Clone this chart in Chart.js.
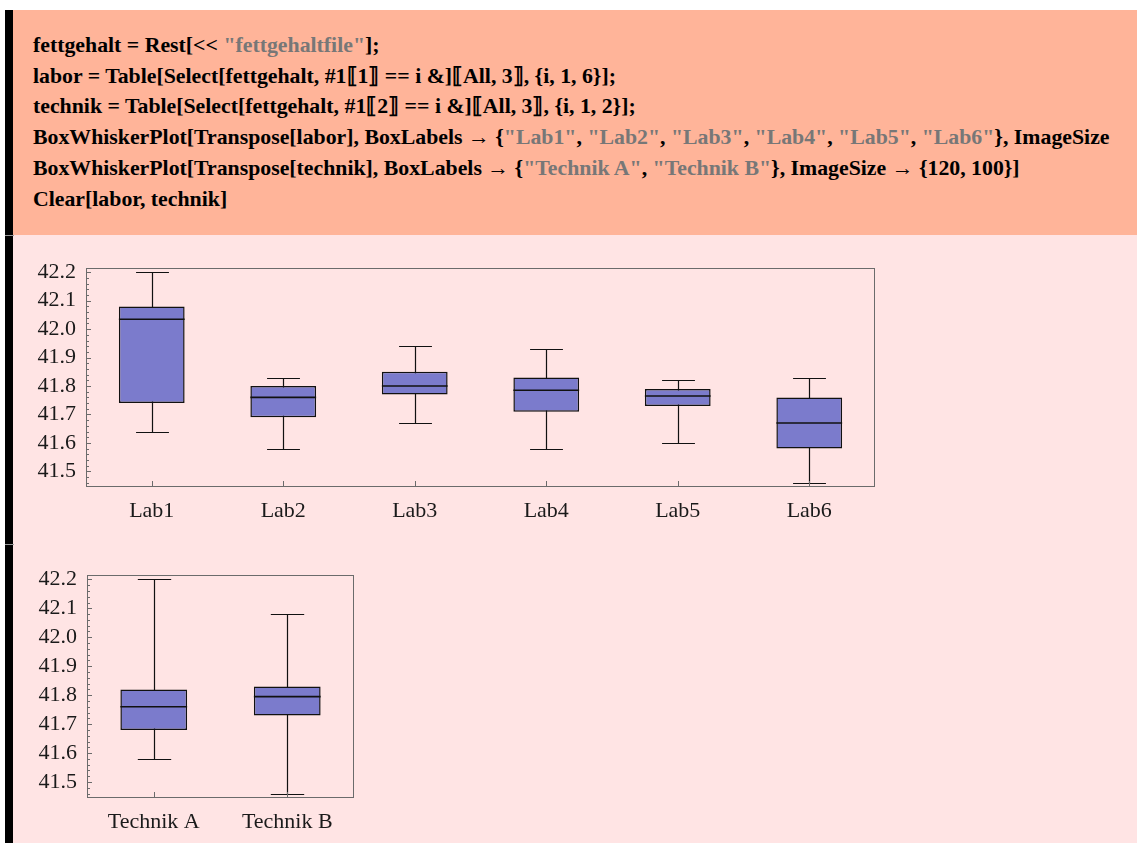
<!DOCTYPE html>
<html>
<head>
<meta charset="utf-8">
<script src="https://cdn.jsdelivr.net/npm/chart.js@4.4.1/dist/chart.umd.min.js"></script>
<style>
  html, body { margin: 0; padding: 0; background: #fff; width: 1137px; height: 843px; overflow: hidden; }
  #code { position: absolute; left: 5px; top: 10px; width: 1132px; height: 225px; background: #ffb499;
          border-left: 8px solid #000; box-sizing: border-box; overflow: hidden; }
  #code pre { position: absolute; left: 20px; top: 20px; margin: 0; white-space: pre;
              font: bold 21.8px "Liberation Serif", "Times New Roman", serif; line-height: 30.7px;
              color: #000; }
  #code .s { color: #777; }
  #out { position: absolute; left: 5px; top: 235px; width: 1132px; height: 608px; background: #ffe4e4;
         border-left: 8px solid #000; box-sizing: border-box; }
  .sep { position: absolute; left: 5px; width: 9px; height: 1px; background: #9a9a9a; }
  canvas { position: absolute; }
</style>
</head>
<body>
<div id="code"><pre>fettgehalt = Rest[&lt;&lt; <span class="s">"fettgehaltfile"</span>];
labor = Table[Select[fettgehalt, #1⟦1⟧ == i &amp;]⟦All, 3⟧, {i, 1, 6}];
technik = Table[Select[fettgehalt, #1⟦2⟧ == i &amp;]⟦All, 3⟧, {i, 1, 2}];
BoxWhiskerPlot[Transpose[labor], BoxLabels → {<span class="s">"Lab1"</span>, <span class="s">"Lab2"</span>, <span class="s">"Lab3"</span>, <span class="s">"Lab4"</span>, <span class="s">"Lab5"</span>, <span class="s">"Lab6"</span>}, ImageSize
BoxWhiskerPlot[Transpose[technik], BoxLabels → {<span class="s">"Technik A"</span>, <span class="s">"Technik B"</span>}, ImageSize → {120, 100}]
Clear[labor, technik]</pre></div>
<div id="out"></div>
<div class="sep" style="top:235px"></div>
<div class="sep" style="top:544px"></div>
<canvas id="laborChart" width="870" height="272" style="left:20px; top:258px"></canvas>
<canvas id="technikChart" width="350" height="278" style="left:20px; top:565px"></canvas>

<script>
// Fat content per laboratory: whisker ends, quartiles and median
const labCategories = ['Lab1', 'Lab2', 'Lab3', 'Lab4', 'Lab5', 'Lab6'];
const labMin    = [41.64, 41.58, 41.67, 41.58, 41.60, 41.46];
const labQ1     = [41.74, 41.69, 41.77, 41.71, 41.73, 41.58];
const labMedian = [42.035, 41.76, 41.80, 41.785, 41.765, 41.67];
const labQ3     = [42.08, 41.80, 41.85, 41.83, 41.79, 41.76];
const labMax    = [42.20, 41.83, 41.94, 41.93, 41.82, 41.83];

// Fat content per technique
const technikCategories = ['Technik A', 'Technik B'];
const technikMin    = [41.58, 41.46];
const technikQ1     = [41.68, 41.73];
const technikMedian = [41.76, 41.795];
const technikQ3     = [41.82, 41.83];
const technikMax    = [42.20, 42.08];

// Value axis
const yTickLabels = ['41.5', '41.6', '41.7', '41.8', '41.9', '42.0', '42.1', '42.2'];
const yMin = 41.445;
const yMax = 42.215;
const yMinorStep = 0.02;

const FRAME = '#6b6b6b';
const INK = '#111';

function isMultiple(v, step) {
  const q = v / step;
  return Math.abs(q - Math.round(q)) < 1e-6;
}

// Whiskers, caps, medians and the inward-ticked frame
const boxWhisker = {
  id: 'boxWhisker',
  beforeDatasetsDraw(chart, args, opts) {
    const { ctx } = chart;
    const y = chart.scales.y;
    const meta = chart.getDatasetMeta(0);
    ctx.save();
    ctx.strokeStyle = INK;
    ctx.lineWidth = 1.2;
    meta.data.forEach((bar, i) => {
      const cx = Math.round(bar.x) + 0.5;
      const cap = bar.width / 4;
      const yLo = Math.round(y.getPixelForValue(opts.low[i])) + 0.5;
      const yHi = Math.round(y.getPixelForValue(opts.high[i])) + 0.5;
      ctx.beginPath();
      ctx.moveTo(cx, yLo); ctx.lineTo(cx, yHi);
      ctx.moveTo(cx - cap, yLo); ctx.lineTo(cx + cap, yLo);
      ctx.moveTo(cx - cap, yHi); ctx.lineTo(cx + cap, yHi);
      ctx.stroke();
    });
    ctx.restore();
  },
  afterDatasetsDraw(chart, args, opts) {
    const { ctx } = chart;
    const y = chart.scales.y;
    const meta = chart.getDatasetMeta(0);
    ctx.save();
    ctx.strokeStyle = INK;
    ctx.lineWidth = 1.6;
    meta.data.forEach((bar, i) => {
      const ym = y.getPixelForValue(opts.median[i]);
      ctx.beginPath();
      ctx.moveTo(bar.x - bar.width / 2, ym);
      ctx.lineTo(bar.x + bar.width / 2, ym);
      ctx.stroke();
    });
    ctx.restore();
  },
  afterDraw(chart) {
    const { ctx, chartArea: a } = chart;
    const x = chart.scales.x, y = chart.scales.y;
    ctx.save();
    ctx.strokeStyle = FRAME;
    ctx.lineWidth = 1;
    ctx.strokeRect(a.left + 0.5, a.top + 0.5, a.right - a.left - 1, a.bottom - a.top - 1);
    ctx.beginPath();
    y.ticks.forEach(t => {
      if (!isMultiple(t.value, yMinorStep)) return;
      const len = isMultiple(t.value, 0.1) ? 5 : 3;
      const py = Math.round(y.getPixelForValue(t.value)) + 0.5;
      ctx.moveTo(a.left, py); ctx.lineTo(a.left + len, py);
    });
    x.ticks.forEach((t, i) => {
      const px = Math.round(x.getPixelForValue(i)) + 0.5;
      ctx.moveTo(px, a.bottom); ctx.lineTo(px, a.bottom - 6);
    });
    ctx.stroke();
    ctx.restore();
  }
};

function makeChart(id, cats, lo, q1, med, q3, hi, sizes) {
  return new Chart(document.getElementById(id), {
    type: 'bar',
    data: {
      labels: cats,
      datasets: [{
        data: q1.map((v, i) => [v, q3[i]]),
        backgroundColor: '#7b7bcc',
        borderColor: INK,
        borderWidth: 1.5,
        borderSkipped: false,
        barPercentage: 0.5,
        categoryPercentage: 1
      }]
    },
    options: {
      responsive: false,
      animation: false,
      devicePixelRatio: 1,
      layout: { padding: { top: 10, right: sizes.right, left: 0, bottom: 0 } },
      plugins: {
        legend: { display: false },
        tooltip: { enabled: false },
        boxWhisker: { low: lo, high: hi, median: med }
      },
      scales: {
        x: {
          grid: { display: false, drawTicks: false },
          border: { display: false },
          ticks: {
            color: '#1a1a1a',
            font: { family: 'Liberation Serif', size: 22 },
            padding: 11, maxRotation: 0, autoSkip: false
          },
          afterFit(s) { s.height = sizes.xHeight; s.paddingLeft = 0; s.paddingRight = 0; }
        },
        y: {
          min: yMin, max: yMax,
          grid: { display: false, drawTicks: false },
          border: { display: false },
          ticks: {
            stepSize: yMinorStep,
            includeBounds: false,
            autoSkip: false,
            color: '#1a1a1a',
            font: { family: 'Liberation Serif', size: 22 },
            padding: 10,
            callback(v) {
              const lab = yTickLabels.find(s => Math.abs(Number(s) - v) < 1e-6);
              return lab === undefined ? '' : lab;
            }
          },
          afterFit(s) { s.width = sizes.yWidth; s.paddingTop = 0; s.paddingBottom = 0; }
        }
      }
    },
    plugins: [boxWhisker]
  });
}

makeChart('laborChart', labCategories, labMin, labQ1, labMedian, labQ3, labMax,
  { right: 15, xHeight: 43, yWidth: 66 });
makeChart('technikChart', technikCategories, technikMin, technikQ1, technikMedian, technikQ3, technikMax,
  { right: 16, xHeight: 45, yWidth: 67 });
</script>
</body>
</html>
